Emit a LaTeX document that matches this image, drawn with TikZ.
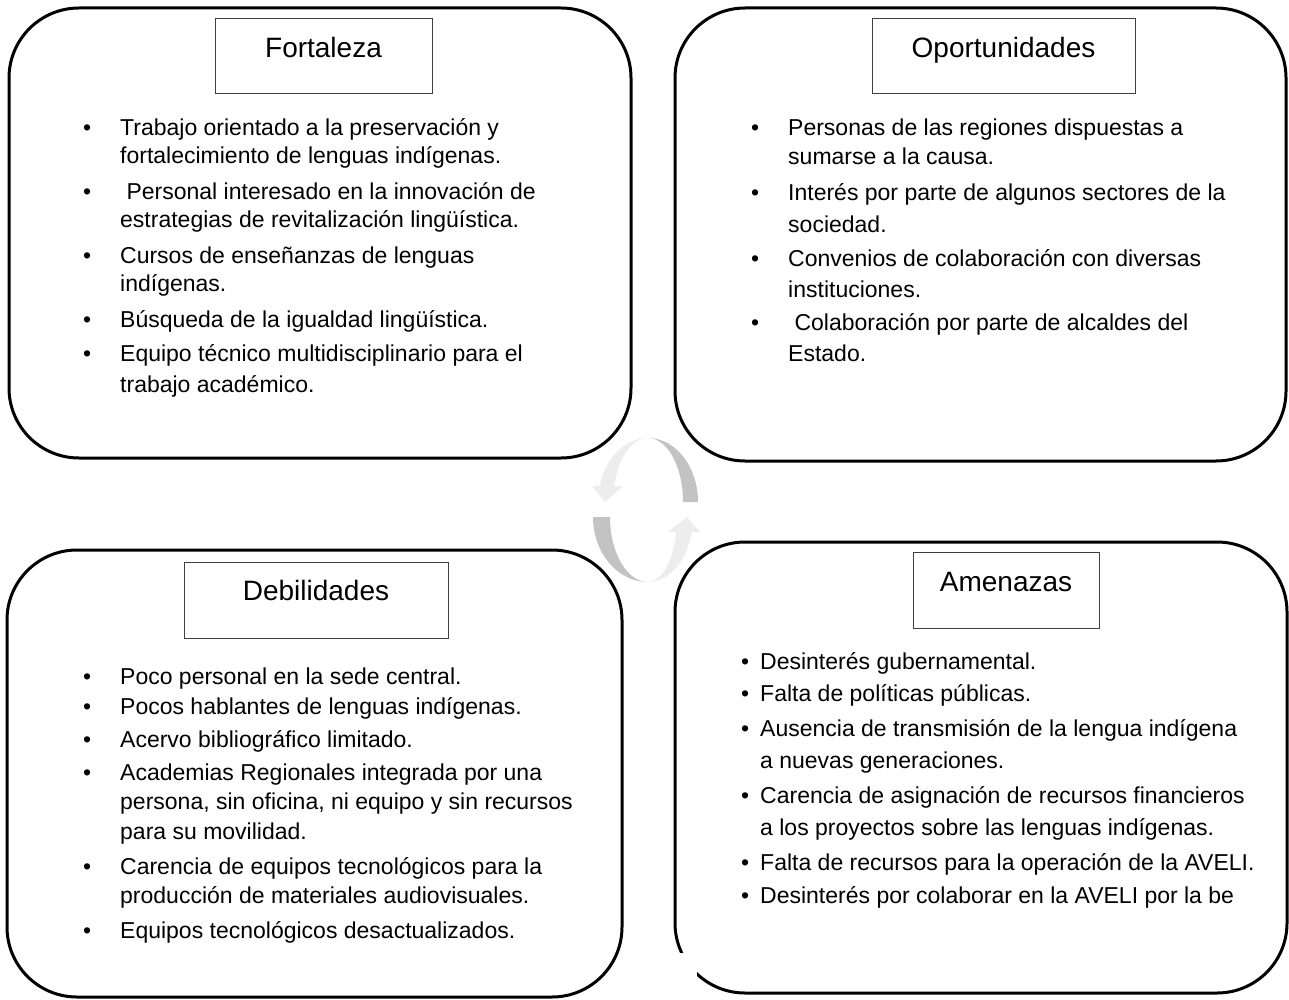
\documentclass[tikz,border=0pt]{standalone}
\usepackage{fontspec}
\setmainfont{Liberation Sans}
\definecolor{grisosc}{HTML}{C3C3C3}
\definecolor{grisclaro}{HTML}{EDEDED}
\newcommand{\vin}{\llap{\textbullet\hspace{29pt}}}
\newcommand{\vinb}{\llap{\textbullet\hspace{11pt}}}
\tikzset{
  caja/.style={draw, line width=3pt, rounded corners=70pt, inner sep=0pt},
  titulo/.style={draw=black!75, line width=1pt, anchor=north, inner ysep=0pt,
    font=\fontsize{28}{34}\selectfont, text height=39pt, text depth=36pt},
  item/.style={anchor=base west, align=left, inner sep=0pt,
    font=\fontsize{23}{#1}\selectfont},
  item/.default=29pt
}

\begin{document}
\begin{tikzpicture}[x=1pt, y=-1pt]
\useasboundingbox (0,0) rectangle (1289,1000);

% flechas del centro
\fill[grisosc] (698,502) arc[start angle=0, end angle=90, x radius=50pt, y radius=64pt]
  arc[start angle=90, end angle=0, x radius=35pt, y radius=64pt] -- cycle;
\fill[grisclaro] (648,438) arc[start angle=90, end angle=165.5, x radius=50pt, y radius=64pt]
  -- (592,486) -- (605,502) -- (623,486) -- (614.1,486)
  arc[start angle=165.5, end angle=90, x radius=35pt, y radius=64pt] -- cycle;
\fill[grisosc] (593,517) arc[start angle=180, end angle=270, x radius=55pt, y radius=65pt]
  arc[start angle=270, end angle=180, x radius=38pt, y radius=65pt] -- cycle;
\fill[grisclaro] (648,582) arc[start angle=270, end angle=346.7, x radius=45pt, y radius=65pt]
  -- (700,532) -- (687,517) -- (668,532) -- (676.2,532)
  arc[start angle=346.7, end angle=270, x radius=29pt, y radius=65pt] -- cycle;

% cajas
\node (F) at (320,233)     [caja, minimum width=622pt, minimum height=450pt] {};
\node (O) at (980.5,234.5) [caja, minimum width=611pt, minimum height=453pt] {};
\node (D) at (314.5,773.5) [caja, minimum width=615pt, minimum height=447pt] {};
\node (A) at (981,767.5)   [caja, minimum width=612pt, minimum height=451pt] {};
\fill[white] (668,953) rectangle (697,990);

\node (tF) at (323.5,18) [titulo, minimum width=217pt] {Fortaleza};
\node (tO) at (1003.5,18) [titulo, minimum width=263pt] {Oportunidades};
\node (tD) at (316,562) [titulo, minimum width=264pt, text height=38pt, text depth=38pt] {Debilidades};
\node (tA) at (1006,552) [titulo, minimum width=186pt, text height=39pt, text depth=37pt] {Amenazas};

% Fortaleza (y = linea base de la ultima linea)
\node (F1) at (120,164) [item=28pt] {\vin Trabajo orientado a la preservación y\\fortalecimiento de lenguas indígenas.};
\node (F2) at (120,228) [item=28pt] {\vin\ Personal interesado en la innovación de\\estrategias de revitalización lingüística.};
\node (F3) at (120,291) [item=28pt] {\vin Cursos de enseñanzas de lenguas\\indígenas.};
\node (F4) at (120,327) [item] {\vin Búsqueda de la igualdad lingüística.};
\node (F5) at (120,392) [item=31pt] {\vin Equipo técnico multidisciplinario para el\\trabajo académico.};

% Oportunidades
\node (O1) at (788,165) [item=29pt] {\vin Personas de las regiones dispuestas a\\sumarse a la causa.};
\node (O2) at (788,233) [item=32pt] {\vin Interés por parte de algunos sectores de la\\sociedad.};
\node (O3) at (788,297) [item=31pt] {\vin Convenios de colaboración con diversas\\instituciones.};
\node (O4) at (788,361) [item=31pt] {\vin\ Colaboración por parte de alcaldes del\\Estado.};

% Debilidades
\node (D1) at (120,684) [item] {\vin Poco personal en la sede central.};
\node (D2) at (120,714) [item] {\vin Pocos hablantes de lenguas indígenas.};
\node (D3) at (120,747) [item] {\vin Acervo bibliográfico limitado.};
\node (D4) at (120,839) [item=29.5pt] {\vin Academias Regionales integrada por una\\persona, sin oficina, ni equipo y sin recursos\\para su movilidad.};
\node (D5) at (120,903) [item=29pt] {\vin Carencia de equipos tecnológicos para la\\producción de materiales audiovisuales.};
\node (D6) at (120,938) [item] {\vin Equipos tecnológicos desactualizados.};

% Amenazas
\node (A1) at (760,669) [item] {\vinb Desinterés gubernamental.};
\node (A2) at (760,701) [item] {\vinb Falta de políticas públicas.};
\node (A3) at (760,768) [item=32pt] {\vinb Ausencia de transmisión de la lengua indígena\\a nuevas generaciones.};
\node (A4) at (760,835) [item=32pt] {\vinb Carencia de asignación de recursos financieros\\a los proyectos sobre las lenguas indígenas.};
\node (A5) at (760,870) [item] {\vinb Falta de recursos para la operación de la AVELI.};
\node (A6) at (760,903) [item] {\vinb Desinterés por colaborar en la AVELI por la be};
\end{tikzpicture}
\end{document}
